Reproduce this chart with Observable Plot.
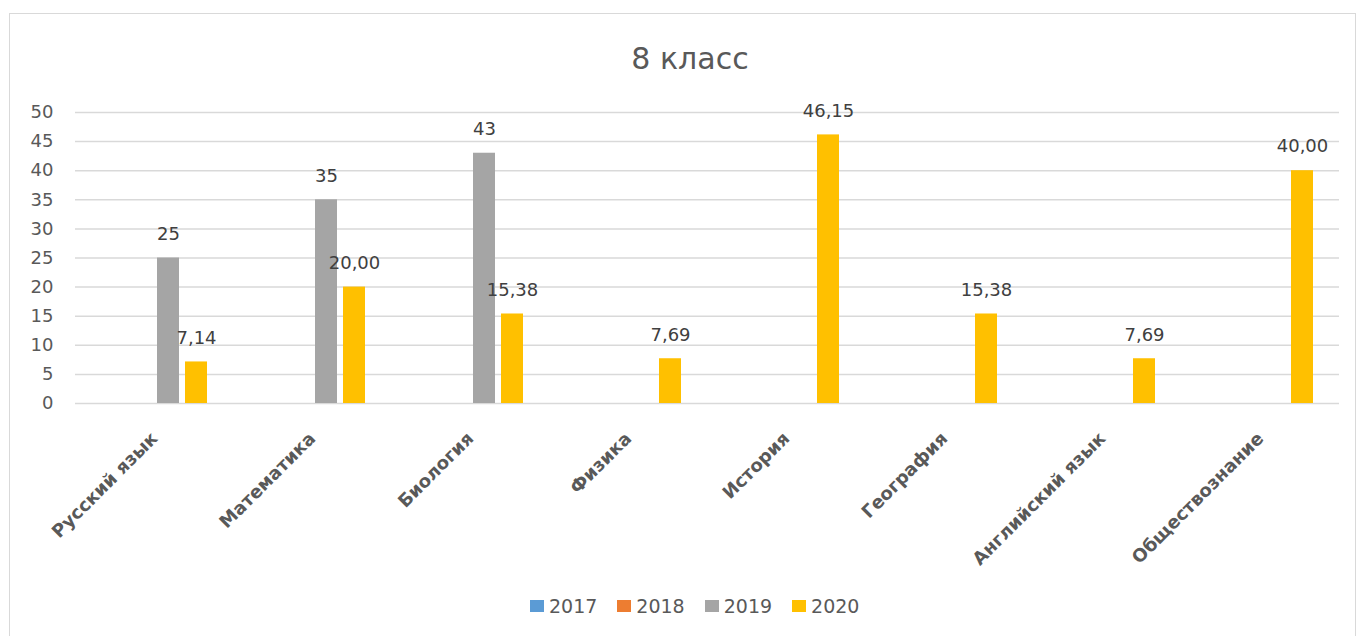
<!DOCTYPE html>
<html>
<head>
<meta charset="utf-8">
<script src="https://cdn.jsdelivr.net/npm/d3@7"></script>
<script src="https://cdn.jsdelivr.net/npm/@observablehq/plot@0.6"></script>
<style>
  html, body { margin: 0; padding: 0; background: #fff; overflow: hidden; }
  #wrap { position: relative; width: 1360px; height: 636px; font-family: "DejaVu Sans", sans-serif; }
  #frame { position: absolute; left: 9px; top: 13px; width: 1347px; height: 650px; border: 1.5px solid #d9d9d9; box-sizing: border-box; }
  #title { position: absolute; left: 10px; top: 44px; width: 1360px; text-align: center; font-size: 30px; line-height: 30px; color: #595959; }
  #chart { position: absolute; left: 0; top: 0; }
  #legend { position: absolute; left: 530px; top: 596px; display: flex; gap: 20px; font-size: 19px; line-height: 20px; color: #595959; }
  .item { display: flex; align-items: center; gap: 5px; }
  .sw { width: 14px; height: 12px; display: inline-block; }
</style>
</head>
<body>
<div id="wrap">
  <div id="frame"></div>
  <div id="chart"></div>
  <div id="title">8 класс</div>
  <div id="legend"></div>
</div>
<script>
const subjects = ["Русский язык", "Математика", "Биология", "Физика", "История", "География", "Английский язык", "Обществознание"];
const years = ["2017", "2018", "2019", "2020"];
const values2017 = [null, null, null, null, null, null, null, null];
const values2018 = [null, null, null, null, null, null, null, null];
const values2019 = [25, 35, 43, null, null, null, null, null];
const values2020 = [7.14, 20.00, 15.38, 7.69, 46.15, 15.38, 7.69, 40.00];
const labelDecimals = [0, 0, 0, 2];
const yTicks = [0, 5, 10, 15, 20, 25, 30, 35, 40, 45, 50];
const colors = ["#5b9bd5", "#ed7d31", "#a5a5a5", "#ffc000"];

const series = [values2017, values2018, values2019, values2020];
const rows = [];
series.forEach((vals, yi) => {
  vals.forEach((v, si) => {
    rows.push({
      subject: subjects[si],
      year: years[yi],
      value: v,
      label: v == null ? "" : v.toFixed(labelDecimals[yi]).replace(".", ",")
    });
  });
});

const chart = Plot.plot({
  width: 1360,
  height: 636,
  marginLeft: 73,
  marginRight: 19,
  marginTop: 112,
  marginBottom: 233,
  style: { fontFamily: "DejaVu Sans", fontSize: "18px", color: "#595959", background: "transparent" },
  fx: { domain: subjects, paddingInner: 0, paddingOuter: 0, label: null, axis: null },
  x: { domain: years, paddingInner: 0.2, paddingOuter: 0.86, axis: null },
  y: { domain: [0, 50], axis: null },
  color: { domain: years, range: colors },
  marks: [
    Plot.gridY(yTicks, { stroke: "#d9d9d9", strokeOpacity: 1, strokeWidth: 1.5 }),
    Plot.axisY(yTicks, { tickSize: 0, tickPadding: 22, fontSize: 18, fill: "#595959", label: null }),
    Plot.axisFx({ anchor: "bottom", tickSize: 0, tickRotate: -45, tickPadding: 32, fontSize: 18, fontWeight: "bold", fill: "#595959", label: null }),
    Plot.barY(rows.filter(d => d.value != null), { fx: "subject", x: "year", y: "value", fill: "year" }),
    Plot.text(rows.filter(d => d.value != null), { fx: "subject", x: "year", y: "value", text: "label", dy: -24, fill: "#404040", fontSize: 18 })
  ]
});
document.getElementById("chart").appendChild(chart);

const legend = document.getElementById("legend");
years.forEach((y, i) => {
  const item = document.createElement("div");
  item.className = "item";
  const sw = document.createElement("span");
  sw.className = "sw";
  sw.style.background = colors[i];
  const t = document.createElement("span");
  t.textContent = y;
  item.appendChild(sw);
  item.appendChild(t);
  legend.appendChild(item);
});
</script>
</body>
</html>
